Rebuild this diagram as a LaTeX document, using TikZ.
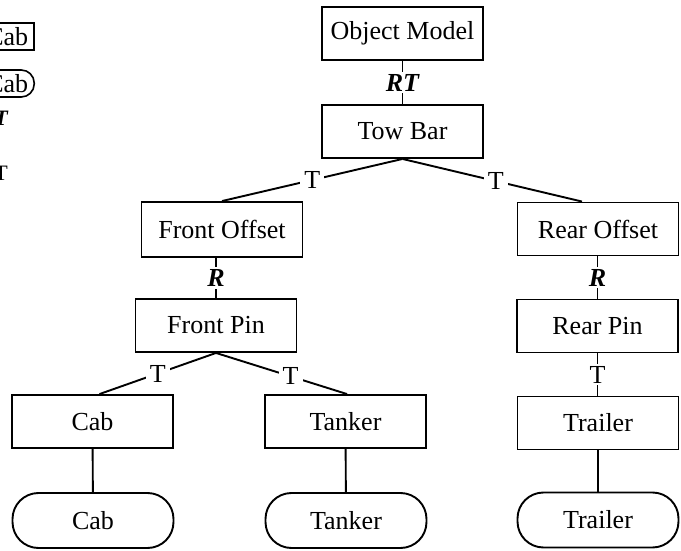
\documentclass[tikz,border=0pt]{standalone}
\usepackage{fontspec}
\setmainfont{Liberation Serif}
\begin{document}
\begin{tikzpicture}[x=1pt,y=-1pt,
  every node/.style={font=\fontsize{26}{30}\selectfont},
  box/.style={draw, line width=1.9pt, minimum width=161pt, minimum height=53pt, inner sep=0pt},
  rbox/.style={box, rounded corners=26pt, minimum height=55pt},
  conn/.style={line width=1.9pt},
  lbl/.style={fill=white, inner xsep=4pt, inner ysep=2pt},
  blbl/.style={lbl, font=\fontsize{26}{30}\selectfont\bfseries\itshape},
  legrect/.style={draw, line width=1.6pt, minimum height=27pt, inner xsep=6pt, inner ysep=0pt, font=\fontsize{26}{26}\selectfont},
  legtext/.style={inner sep=0pt, font=\fontsize{22}{26}\selectfont}
]
\useasboundingbox (0,0) rectangle (681,551);
\fill[white] (0,0) rectangle (681,551);

% legend (cut off at the left edge)
\node[legrect, anchor=east] (lg1) at (35,36.5) {Cab};
\node[legrect, rounded corners=13pt, anchor=east] (lg2) at (35,83.5) {Cab};
\node[legtext, anchor=east, font=\fontsize{22}{26}\selectfont\bfseries\itshape] (lg3) at (8,118) {RT};
\node[legtext, anchor=east] (lg4) at (8,173) {T};

% boxes
\node[box] (om) at (402.5,33.5) {Object Model};
\node[box] (tb) at (402.5,131.5) {Tow Bar};
\node[box, minimum height=55pt] (fo) at (222,229.5) {Front Offset};
\node[box] (ro) at (598,229) {Rear Offset};
\node[box] (fp) at (216,325.5) {Front Pin};
\node[box] (rp) at (597.5,326) {Rear Pin};
\node[box] (cab) at (92.5,421.5) {Cab};
\node[box] (tank) at (345.5,421.5) {Tanker};
\node[box] (trl) at (598,423) {Trailer};
\node[rbox] (rcab) at (93,520.5) {Cab};
\node[rbox] (rtank) at (346,520.5) {Tanker};
\node[rbox] (rtrl) at (598,520) {Trailer};

% connectors
\draw[conn] (om) -- node[blbl] {RT} (tb);
\draw[conn] (tb.south) -- node[lbl] {T} (fo.north);
\draw[conn] (tb.south) -- node[lbl, pos=0.52] {T} ([xshift=-16pt]ro.north);
\draw[conn] (fp.north |- fo.south) -- node[blbl] {R} (fp.north);
\draw[conn] (rp.north |- ro.south) -- node[blbl] {R} (rp.north);
\draw[conn] (fp.south) -- node[lbl] {T} ([xshift=7pt]cab.north);
\draw[conn] (fp.south) -- node[lbl, pos=0.57] {T} ([xshift=1.5pt]tank.north);
\draw[conn] (rp.south) -- node[lbl] {T} (rp.south |- trl.north);
\draw[conn] (cab) -- (rcab);
\draw[conn] (tank) -- (rtank);
\draw[conn] (trl) -- (rtrl);
\end{tikzpicture}
\end{document}
